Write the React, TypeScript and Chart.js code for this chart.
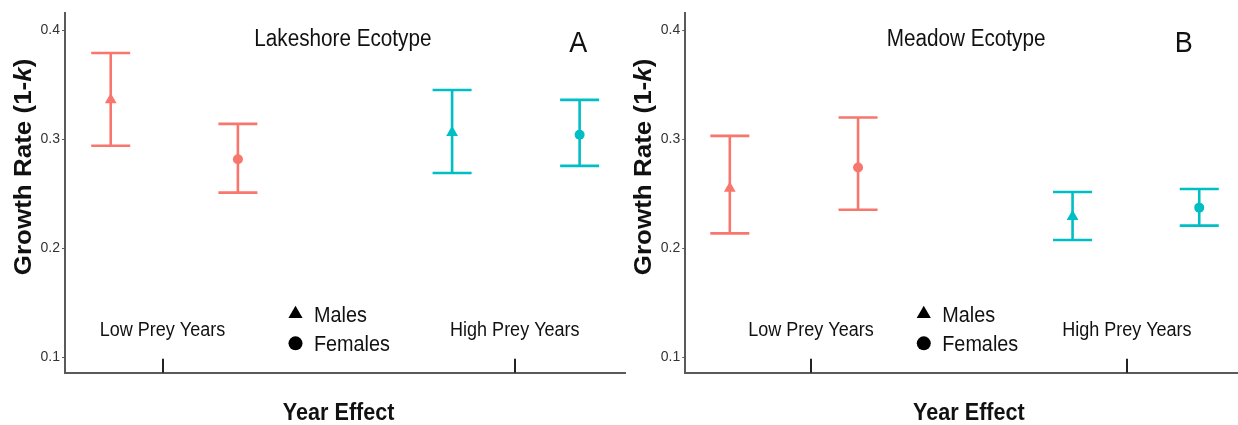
import React, { useEffect, useRef } from 'react';
import { Chart, registerables } from 'chart.js';

Chart.register(...registerables);

// ---------- data ----------
const yearCategories = ['Low Prey Years', 'High Prey Years'];
const categoryPositions = [1, 2];
const sexLabels = ['Males', 'Females'];
const yTickValues = [0.1, 0.2, 0.3, 0.4];
const panelTitles = ['Lakeshore Ecotype', 'Meadow Ecotype'];
const panelLetters = ['A', 'B'];

const lakeshoreMaleMean = [0.336, 0.306];
const lakeshoreMaleLower = [0.294, 0.269];
const lakeshoreMaleUpper = [0.379, 0.345];
const lakeshoreFemaleMean = [0.2815, 0.304];
const lakeshoreFemaleLower = [0.251, 0.2755];
const lakeshoreFemaleUpper = [0.314, 0.336];

const meadowMaleMean = [0.255, 0.229];
const meadowMaleLower = [0.2136, 0.2076];
const meadowMaleUpper = [0.303, 0.2515];
const meadowFemaleMean = [0.274, 0.2372];
const meadowFemaleLower = [0.2353, 0.2207];
const meadowFemaleUpper = [0.3198, 0.2543];

// ---------- styles ----------
const YEAR_COLORS = ['#F8766D', '#00BFC4'];
const FONT = '"Liberation Sans", Arial, Helvetica, sans-serif';
const SX = 0.9; // horizontal squeeze of the original figure's text
const AXIS_COLOR = '#5a5a5a';
const TEXT_COLOR = '#111111';

type Series = { mean: number[]; lower: number[]; upper: number[] };
type PanelCfg = {
  title: string;
  letter: string;
  male: Series;
  female: Series;
  maleDodge: number[];
  femaleDodge: number[];
  xMin: number;
  xMax: number;
  titleX: number;
  legendX: number;
  canvasLeft: number;
  canvasWidth: number;
  yAxisWidth: number;
  padRight: number;
};

const Y_MIN = 0.0859;
const Y_MAX = 0.4159;

const panelsCfg: PanelCfg[] = [
  {
    title: panelTitles[0],
    letter: panelLetters[0],
    male: { mean: lakeshoreMaleMean, lower: lakeshoreMaleLower, upper: lakeshoreMaleUpper },
    female: { mean: lakeshoreFemaleMean, lower: lakeshoreFemaleLower, upper: lakeshoreFemaleUpper },
    maleDodge: [-0.147, -0.178],
    femaleDodge: [0.214, 0.184],
    xMin: 0.7232,
    xMax: 2.3128,
    titleX: 1.512,
    legendX: 1.3775,
    canvasLeft: 0,
    canvasWidth: 630,
    yAxisWidth: 65,
    padRight: 5,
  },
  {
    title: panelTitles[1],
    letter: panelLetters[1],
    male: { mean: meadowMaleMean, lower: meadowMaleLower, upper: meadowMaleUpper },
    female: { mean: meadowFemaleMean, lower: meadowFemaleLower, upper: meadowFemaleUpper },
    maleDodge: [-0.257, -0.172],
    femaleDodge: [0.149, 0.229],
    xMin: 0.6018,
    xMax: 2.3517,
    titleX: 1.491,
    legendX: 1.357,
    canvasLeft: 620,
    canvasWidth: 618,
    yAxisWidth: 65.2,
    padRight: 0,
  },
];

function squeezedText(
  ctx: CanvasRenderingContext2D,
  text: string,
  x: number,
  y: number,
  font: string,
  align: CanvasTextAlign,
  baseline: CanvasTextBaseline = 'middle',
) {
  ctx.save();
  ctx.translate(x, y);
  ctx.scale(SX, 1);
  ctx.font = font;
  ctx.textAlign = align;
  ctx.textBaseline = baseline;
  ctx.fillStyle = TEXT_COLOR;
  ctx.fillText(text, 0, 0);
  ctx.restore();
}

function makeErrorBarPlugin(cfg: PanelCfg) {
  return {
    id: 'errorBars',
    beforeDatasetsDraw(chart: any) {
      const ctx: CanvasRenderingContext2D = chart.ctx;
      const xs = chart.scales.x;
      const ys = chart.scales.y;
      const capHalf = 19.5;
      const groups: [Series, number[]][] = [
        [cfg.male, cfg.maleDodge],
        [cfg.female, cfg.femaleDodge],
      ];
      ctx.save();
      ctx.lineWidth = 2.6;
      ctx.lineCap = 'butt';
      groups.forEach(([s, dodge]) => {
        categoryPositions.forEach((pos, i) => {
          const px = xs.getPixelForValue(pos + dodge[i]);
          const yLo = ys.getPixelForValue(s.lower[i]);
          const yHi = ys.getPixelForValue(s.upper[i]);
          ctx.strokeStyle = YEAR_COLORS[i];
          ctx.beginPath();
          ctx.moveTo(px, yHi);
          ctx.lineTo(px, yLo);
          ctx.moveTo(px - capHalf, yHi);
          ctx.lineTo(px + capHalf, yHi);
          ctx.moveTo(px - capHalf, yLo);
          ctx.lineTo(px + capHalf, yLo);
          ctx.stroke();
        });
      });
      ctx.restore();
    },
  };
}

function makeAnnotationPlugin(cfg: PanelCfg) {
  return {
    id: 'annotations',
    afterDraw(chart: any) {
      const ctx: CanvasRenderingContext2D = chart.ctx;
      const xs = chart.scales.x;
      const ys = chart.scales.y;
      const area = chart.chartArea;

      // inward x tick marks
      ctx.save();
      ctx.strokeStyle = '#222222';
      ctx.lineWidth = 2;
      categoryPositions.forEach((pos) => {
        const px = Math.round(xs.getPixelForValue(pos));
        ctx.beginPath();
        ctx.moveTo(px, area.bottom - 14);
        ctx.lineTo(px, area.bottom);
        ctx.stroke();
      });
      ctx.restore();

      // category labels inside plot
      yearCategories.forEach((label, i) => {
        squeezedText(ctx, label, xs.getPixelForValue(categoryPositions[i]), ys.getPixelForValue(0.125), `20px ${FONT}`, 'center');
      });

      // panel title + letter
      squeezedText(ctx, cfg.title, xs.getPixelForValue(cfg.titleX), ys.getPixelForValue(0.3908), `23px ${FONT}`, 'center');
      squeezedText(ctx, cfg.letter, xs.getPixelForValue(2.18), ys.getPixelForValue(0.3875), `30px ${FONT}`, 'center');

      // legend
      const lx = xs.getPixelForValue(cfg.legendX);
      const yMale = ys.getPixelForValue(0.1397);
      const yFemale = ys.getPixelForValue(0.1128);
      ctx.save();
      ctx.fillStyle = '#000000';
      const r = 8.2;
      ctx.beginPath();
      ctx.moveTo(lx, yMale - r);
      ctx.lineTo(lx + r * Math.sin((2 * Math.PI) / 3), yMale + r / 2);
      ctx.lineTo(lx - r * Math.sin((2 * Math.PI) / 3), yMale + r / 2);
      ctx.closePath();
      ctx.fill();
      ctx.beginPath();
      ctx.arc(lx, yFemale, 7, 0, Math.PI * 2);
      ctx.fill();
      ctx.restore();
      squeezedText(ctx, sexLabels[0], lx + 18.5, yMale + 7.8, `22px ${FONT}`, 'left', 'alphabetic');
      squeezedText(ctx, sexLabels[1], lx + 18.5, yFemale + 8, `22px ${FONT}`, 'left', 'alphabetic');

      // x axis title
      squeezedText(ctx, 'Year Effect', xs.getPixelForValue(1.5), area.bottom + 40.5, `bold 24px ${FONT}`, 'center');

      // y axis title (rotated, with italic k)
      const cy = ys.getPixelForValue(0.2745);
      const cx = area.left - 40.5;
      const boldF = `bold 26px ${FONT}`;
      const italF = `italic bold 26px ${FONT}`;
      ctx.save();
      ctx.translate(cx, cy);
      ctx.scale(SX, 1);
      ctx.rotate(-Math.PI / 2);
      ctx.fillStyle = TEXT_COLOR;
      ctx.textBaseline = 'middle';
      ctx.textAlign = 'left';
      const parts: [string, string][] = [
        ['Growth Rate (1-', boldF],
        ['k', italF],
        [')', boldF],
      ];
      let total = 0;
      parts.forEach(([t, f]) => {
        ctx.font = f;
        total += ctx.measureText(t).width;
      });
      let x = -total / 2;
      parts.forEach(([t, f]) => {
        ctx.font = f;
        ctx.fillText(t, x, 0);
        x += ctx.measureText(t).width;
      });
      ctx.restore();
    },
  };
}

function Panel({ cfg }: { cfg: PanelCfg }) {
  const ref = useRef<HTMLCanvasElement>(null);
  useEffect(() => {
    const canvas = ref.current;
    if (!canvas) return;
    const maleData = categoryPositions.map((p, i) => ({ x: p + cfg.maleDodge[i], y: cfg.male.mean[i] }));
    const femaleData = categoryPositions.map((p, i) => ({ x: p + cfg.femaleDodge[i], y: cfg.female.mean[i] }));
    const chart = new Chart(canvas, {
      type: 'scatter',
      data: {
        datasets: [
          {
            label: sexLabels[0],
            data: maleData,
            pointStyle: 'triangle',
            pointRadius: 6.8,
            pointBorderWidth: 0,
            pointBackgroundColor: YEAR_COLORS,
            pointBorderColor: YEAR_COLORS,
          },
          {
            label: sexLabels[1],
            data: femaleData,
            pointStyle: 'circle',
            pointRadius: 5,
            pointBorderWidth: 0,
            pointBackgroundColor: YEAR_COLORS,
            pointBorderColor: YEAR_COLORS,
          },
        ],
      },
      options: {
        responsive: false,
        animation: false,
        events: [],
        layout: { autoPadding: false, padding: { top: 12.7, bottom: 52.3, left: 0, right: cfg.padRight } },
        plugins: { legend: { display: false }, tooltip: { enabled: false } },
        scales: {
          x: {
            type: 'linear',
            min: cfg.xMin,
            max: cfg.xMax,
            grid: { display: false },
            ticks: { display: false },
            border: { display: true, color: AXIS_COLOR, width: 2 },
            afterFit: (s: any) => {
              s.height = 0;
            },
          },
          y: {
            type: 'linear',
            min: Y_MIN,
            max: Y_MAX,
            afterBuildTicks: (s: any) => {
              s.ticks = yTickValues.map((v) => ({ value: v }));
            },
            ticks: {
              color: '#333333',
              font: { family: FONT, size: 14 },
              padding: 2,
              callback: (v: any) => Number(v).toFixed(1),
            },
            grid: { drawOnChartArea: false, drawTicks: true, tickLength: 3, color: AXIS_COLOR, lineWidth: 1 },
            border: { display: true, color: AXIS_COLOR, width: 2 },
            afterFit: (s: any) => {
              s.width = cfg.yAxisWidth;
            },
          },
        },
      },
      plugins: [makeErrorBarPlugin(cfg), makeAnnotationPlugin(cfg)],
    } as any);
    return () => chart.destroy();
  }, [cfg]);
  return (
    <canvas
      ref={ref}
      width={cfg.canvasWidth}
      height={425}
      style={{ position: 'absolute', left: cfg.canvasLeft, top: 0, width: cfg.canvasWidth, height: 425 }}
    />
  );
}

export default function App() {
  return (
    <div style={{ position: 'fixed', left: 0, top: 0, width: 1238, height: 425, background: '#ffffff', overflow: 'hidden' }}>
      {panelsCfg.map((cfg) => (
        <Panel key={cfg.letter} cfg={cfg} />
      ))}
    </div>
  );
}
